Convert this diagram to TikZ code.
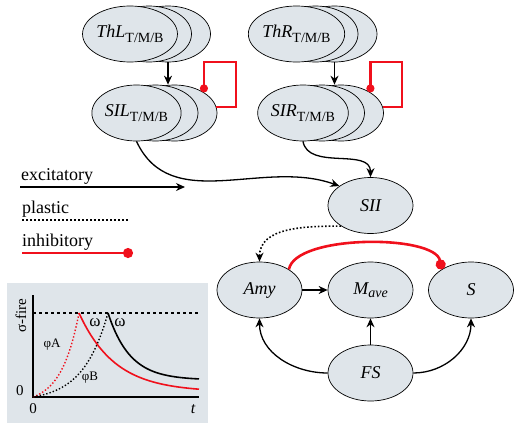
\documentclass[tikz,border=0pt]{standalone}
\usepackage{fontspec}
\setmainfont{Liberation Serif}
\usetikzlibrary{shapes,arrows,arrows.meta}
\usetikzlibrary{positioning}
\usetikzlibrary{calc}
\definecolor{cellfill}{RGB}{223,229,234}
\definecolor{inhred}{RGB}{240,16,28}
\newcommand{\sublabel}[2]{#1\raisebox{-.55ex}{\fontsize{14}{14}\selectfont\upshape #2}}

\begin{document}
\begin{tikzpicture}[x=1pt,y=-1pt]
 \useasboundingbox (0,0) rectangle (514,429);
 \tikzstyle{cell} = [ellipse, draw, fill=cellfill, line width=.7pt, minimum width=85pt, minimum height=56pt, inner sep=0pt, font=\fontsize{18}{20}\selectfont\itshape];

 % thalamus and SI stacks (back layers first)
 \node (ThL3) [cell] at (168,34) {};
 \node (ThL2) [cell] at (149,34) {};
 \node (ThL) [cell] at (130,34) {\sublabel{ThL}{T/M/B}};
 \node (ThR3) [cell] at (334.5,34) {};
 \node (ThR2) [cell] at (315.5,34) {};
 \node (ThR) [cell] at (296.5,34) {\sublabel{ThR}{T/M/B}};
 \node (SIL3) [cell] at (174.5,113) {};
 \node (SIL2) [cell] at (155.5,113) {};
 \node (SIL) [cell] at (136.5,113) {\sublabel{SIL}{T/M/B}};
 \node (SIR3) [cell] at (341,113) {};
 \node (SIR2) [cell] at (322,113) {};
 \node (SIR) [cell] at (303,113) {\sublabel{SIR}{T/M/B}};

 \node (SII) [cell] at (370.5,205.5) {SII};
 \node (Amy) [cell] at (259.5,290) {Amy};
 \node (Mave) [cell] at (370.5,290) {M\raisebox{-.3ex}{\fontsize{14}{14}\selectfont ave}};
 \node (S) [cell] at (471,290) {S};
 \node (FS) [cell] at (370.5,373) {FS};

 \tikzstyle{C} = [color=black, line width=1.3pt, -{Stealth[length=9pt,width=8pt]}];
 \tikzstyle{P} = [color=black, line width=1.6pt, dotted, -{Stealth[length=9pt,width=8pt]}];
 \tikzstyle{I} = [color=inhred, line width=2.6pt, -{Circle[length=10pt]}];

 \draw [C] (ThL3.south) -- (ThL3.south |- SIL3.north);
 \draw [C] (ThR3.south) -- (ThR3.south |- SIR3.north);
 \draw [I, -{Circle[length=8pt]}] (SIL3.8) -| (236,62) -| (SIL3.35);
 \draw [I, -{Circle[length=8pt]}] (SIR3.8) -| (402,62) -| (SIR3.35);

 \draw [C] (SIL.south) to [out=-65, in=160] (SII.148);
 \draw [C] (SIR.south) to [out=-80, in=90] (SII.north);
 \draw [P] (SII.215) to [out=180, in=90] (Amy.north);
 \draw [I] (Amy.35) to [out=80, in=100, looseness=.6] (S.145);
 \draw [C] (Amy.east) -- (Mave.west);
 \draw [C] (FS.north) -- (Mave.south);
 \draw [C] (FS.west) to [out=180, in=-90] (Amy.south);
 \draw [C] (FS.east) to [out=0, in=-90] (S.south);

 % legend
 \tikzstyle{leg} = [anchor=base west, inner sep=0pt, font=\fontsize{18}{20}\selectfont];
 \node (exc) [leg] at (21,180) {excitatory};
 \node (pla) [leg] at (22,213) {plastic};
 \node (inh) [leg] at (22,246) {inhibitory};
 \coordinate (exc1) at (20,187);
 \coordinate (exc2) at (185,187);
 \coordinate (pla1) at (22,220);
 \coordinate (pla2) at (129,220);
 \coordinate (inh1) at (22,253);
 \coordinate (inh2) at (133,253);
 \draw [C] (exc1) -- (exc2);
 \draw [color=black, line width=2pt, dotted] (pla1) -- (pla2);
 \draw [I, line width=2.4pt] (inh1) -- (inh2);

 % sigma-fire inset
 \fill [cellfill] (7,283) rectangle (208,423);
 \draw [line width=1.6pt] (33,295) -- (33,397) -- (199,397);
 \draw [line width=1.4pt, dashed] (33,313) -- (199,313);
 \draw [inhred, line width=1.4pt, dotted] plot [domain=0:1, samples=40] ({33+46*\x},{397-84*(exp(2.6*\x)-1)/(exp(2.6)-1)});
 \draw [black, line width=1.4pt, dotted] plot [domain=0:1, samples=40] ({33+75*\x},{397-84*(exp(3*\x)-1)/(exp(3)-1)});
 \draw [inhred, line width=1.6pt] plot [domain=79:199, samples=50] (\x,{392-79*exp(-(\x-79)/36)});
 \draw [black, line width=1.6pt] plot [domain=108:199, samples=50] (\x,{380-67*exp(-(\x-108)/22)});
 \tikzstyle{lab} = [inner sep=0pt, font=\fontsize{15}{15}\selectfont];
 \node (sfire) [lab, rotate=90] at (21,316) {σ-fire};
 \node (zeroy) [lab] at (20,391) {0};
 \node (zerox) [lab] at (33,409) {0};
 \node (tlab) [lab, font=\fontsize{16}{16}\selectfont\itshape] at (193,409) {t};
 \node (omA) [lab, font=\fontsize{17}{17}\selectfont] at (95,323) {ω};
 \node (omB) [lab, font=\fontsize{17}{17}\selectfont] at (120,323) {ω};
 \node (phiA) [lab, font=\fontsize{13}{13}\selectfont] at (52,345) {φA};
 \node (phiB) [lab, font=\fontsize{13}{13}\selectfont] at (90,378) {φB};

\end{tikzpicture}
\end{document}
